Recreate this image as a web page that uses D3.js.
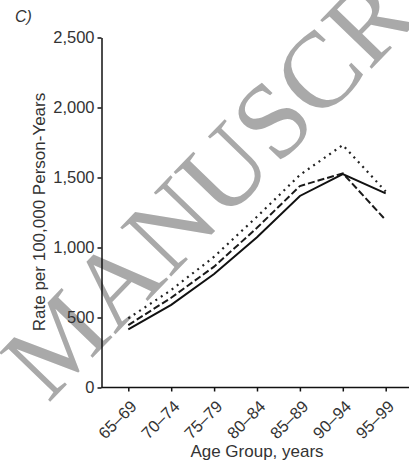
<!DOCTYPE html>
<html>
<head>
<meta charset="utf-8">
<script src="https://cdn.jsdelivr.net/npm/d3@7"></script>
<style>
html,body{margin:0;padding:0;background:#fff;}
svg{display:block;}
</style>
</head>
<body>
<svg id="chart" width="409" height="470"></svg>
<script>
const categories = ["65–69","70–74","75–79","80–84","85–89","90–94","95–99"];
const seriesSolid  = [416, 590, 811, 1073, 1368, 1525, 1387];
const seriesDashed = [446, 641, 863, 1141, 1439, 1530, 1196];
const seriesDotted = [494, 696, 934, 1220, 1518, 1732, 1400];
const yTicks = [0, 500, 1000, 1500, 2000, 2500];
const panelLabel = "C)";
const xTitle = "Age Group, years";
const yTitle = "Rate per 100,000 Person-Years";
const watermark = "MANUSCRIPT";

const svg = d3.select("#chart");
const font = "Liberation Sans, Arial, sans-serif";
const textColor = "#333";

// watermark
svg.append("text")
  .attr("transform", "translate(48,404) rotate(-46)")
  .attr("font-family", "Liberation Serif, Times New Roman, serif")
  .attr("font-size", 108)
  .attr("fill", "#a9a9a9")
  .text(watermark);

const x = d3.scalePoint().domain(categories).range([128.3, 385.7]);
const y = d3.scaleLinear().domain([0, 2500]).range([387.5, 37.5]);

// y axis
const yAxis = svg.append("g")
  .attr("transform", "translate(101.5,0)")
  .call(d3.axisLeft(y).tickValues(yTicks).tickFormat(d3.format(",")).tickSize(4).tickSizeOuter(0).tickPadding(3));
yAxis.select(".domain").attr("stroke", "#111").attr("stroke-width", 1.5);
yAxis.selectAll(".tick line").attr("stroke", "#111").attr("stroke-width", 1.5);
yAxis.selectAll(".tick text").attr("font-family", font).attr("font-size", 16.5).attr("fill", textColor);

// x axis
const xAxis = svg.append("g")
  .attr("transform", "translate(0,387.5)")
  .call(d3.axisBottom(x).tickSize(4).tickSizeOuter(0).tickPadding(3));
xAxis.select(".domain").remove();
xAxis.append("line").attr("x1", 101.5).attr("x2", 409).attr("y1", 0).attr("y2", 0)
  .attr("stroke", "#111").attr("stroke-width", 1.5);
xAxis.selectAll(".tick line").attr("stroke", "#111").attr("stroke-width", 1.5);
xAxis.selectAll(".tick text")
  .attr("font-family", font).attr("font-size", 16.5).attr("fill", textColor)
  .attr("text-anchor", "end")
  .attr("dy", null).attr("y", null)
  .attr("transform", "translate(9,20) rotate(-45)");

// lines
const line = d3.line().x((d, i) => x(categories[i])).y(d => y(d));
svg.append("path").datum(seriesDotted).attr("d", line)
  .attr("fill", "none").attr("stroke", "#222").attr("stroke-width", 2.2)
  .attr("stroke-dasharray", "2,4.5");
svg.append("path").datum(seriesDashed).attr("d", line)
  .attr("fill", "none").attr("stroke", "#1a1a1a").attr("stroke-width", 2)
  .attr("stroke-dasharray", "7,3");
svg.append("path").datum(seriesSolid).attr("d", line)
  .attr("fill", "none").attr("stroke", "#111").attr("stroke-width", 2);

// titles
svg.append("text").attr("x", 257).attr("y", 457)
  .attr("text-anchor", "middle").attr("font-family", font).attr("font-size", 17).attr("fill", textColor)
  .text(xTitle);
svg.append("text").attr("transform", "translate(45,212) rotate(-90)")
  .attr("text-anchor", "middle").attr("font-family", font).attr("font-size", 17).attr("fill", textColor)
  .text(yTitle);
svg.append("text").attr("x", 15).attr("y", 22)
  .attr("font-family", font).attr("font-size", 16).attr("font-style", "italic").attr("fill", textColor)
  .text(panelLabel);
</script>
</body>
</html>
